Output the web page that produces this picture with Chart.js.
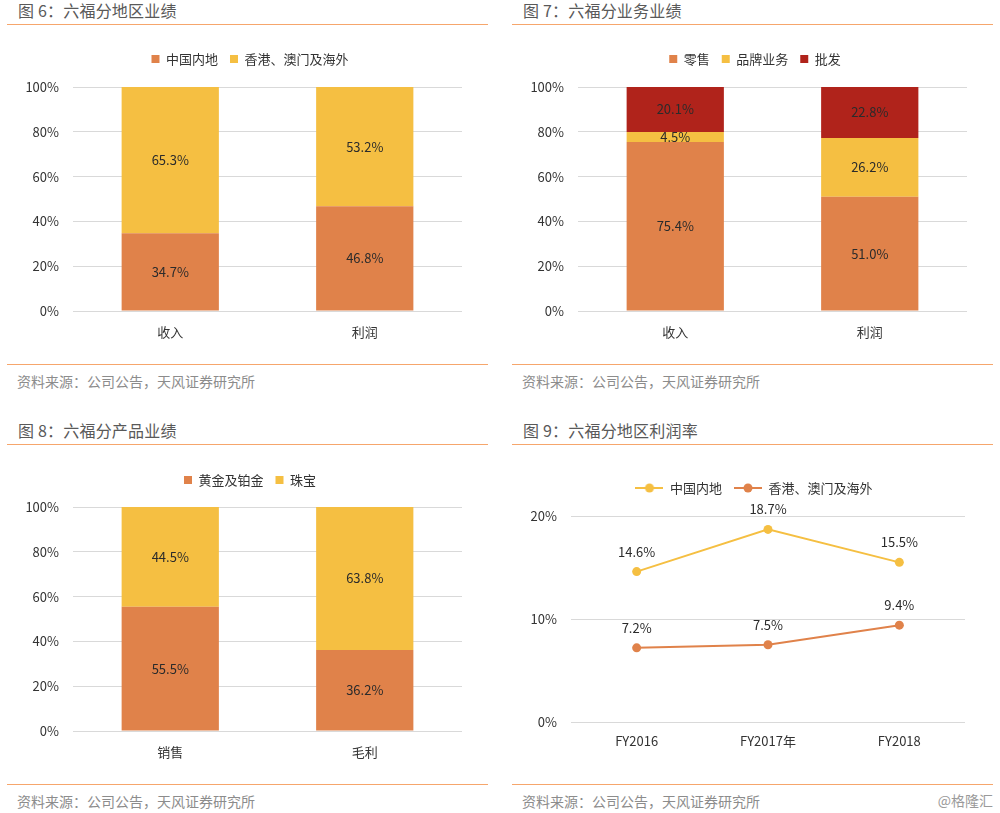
<!DOCTYPE html>
<html>
<head>
<meta charset="utf-8">
<script src="https://cdn.jsdelivr.net/npm/chart.js@4.4.1/dist/chart.umd.min.js"></script>
<style>
  html, body { margin: 0; padding: 0; background: #ffffff; }
  body { width: 1000px; height: 813px; position: relative; overflow: hidden;
         font-family: "Noto Sans CJK SC", "Noto Sans", sans-serif; }
  .title { position: absolute; font-size: 16px; color: #595959; letter-spacing: 0.2px; line-height: 20px; white-space: nowrap; }
  .src { position: absolute; font-size: 14px; color: #8c8c8c; line-height: 18px; white-space: nowrap; }
  .rule { position: absolute; height: 0; border-top: 1.5px solid #f6a66c; }
  .cv { position: absolute; }
  .wm { position: absolute; font-size: 14px; color: #9a9a9a; line-height: 18px; right: 7px; top: 791px; }
</style>
</head>
<body>
<div class="title" style="left:18px; top:0px;">图 6：六福分地区业绩</div>
<div class="rule" style="left:7px; width:481px; top:24px;"></div>
<div class="rule" style="left:7px; width:481px; top:364px;"></div>
<div class="src" style="left:17px; top:372px;">资料来源：公司公告，天风证券研究所</div>

<div class="title" style="left:523px; top:0px;">图 7：六福分业务业绩</div>
<div class="rule" style="left:512px; width:481px; top:24px;"></div>
<div class="rule" style="left:512px; width:481px; top:364px;"></div>
<div class="src" style="left:522px; top:372px;">资料来源：公司公告，天风证券研究所</div>

<div class="title" style="left:18px; top:420px;">图 8：六福分产品业绩</div>
<div class="rule" style="left:7px; width:481px; top:444px;"></div>
<div class="rule" style="left:7px; width:481px; top:784px;"></div>
<div class="src" style="left:17px; top:792px;">资料来源：公司公告，天风证券研究所</div>

<div class="title" style="left:523px; top:420px;">图 9：六福分地区利润率</div>
<div class="rule" style="left:512px; width:481px; top:444px;"></div>
<div class="rule" style="left:512px; width:481px; top:784px;"></div>
<div class="src" style="left:522px; top:792px;">资料来源：公司公告，天风证券研究所</div>
<div class="wm">@格隆汇</div>

<canvas id="c1" class="cv" style="left:0px; top:35px;" width="500" height="316"></canvas>
<canvas id="c2" class="cv" style="left:500px; top:35px;" width="500" height="316"></canvas>
<canvas id="c3" class="cv" style="left:0px; top:455px;" width="500" height="316"></canvas>
<canvas id="c4" class="cv" style="left:500px; top:460px;" width="500" height="302"></canvas>

<script>
// ---------- DATA ----------
const regionCategories = ['收入', '利润'];
const regionMainland = [34.7, 46.8];
const regionOverseas = [65.3, 53.2];

const businessCategories = ['收入', '利润'];
const businessRetail = [75.4, 51.0];
const businessBrand = [4.5, 26.2];
const businessWholesale = [20.1, 22.8];

const productCategories = ['销售', '毛利'];
const productGoldPlatinum = [55.5, 36.2];
const productJewelry = [44.5, 63.8];

const marginYears = ['FY2016', 'FY2017年', 'FY2018'];
const marginMainland = [14.6, 18.7, 15.5];
const marginOverseas = [7.2, 7.5, 9.4];

// ---------- STYLE ----------
const ORANGE = '#e0824a';
const YELLOW = '#f5bf42';
const RED = '#b0231b';
const FONT = '"Noto Sans CJK SC", "Noto Sans", sans-serif';
const TXT = '#333333';
const GRID = '#d9d9d9';

Chart.defaults.font.family = FONT;
Chart.defaults.font.size = 13;
Chart.defaults.color = TXT;
Chart.defaults.animation = false;

// extra space below the legend, and a horizontal shift of the legend
function legendTweak(extra, shift) {
  return {
    id: 'legendTweak',
    beforeInit(chart) {
      const lg = chart.legend;
      if (!lg) return;
      const orig = lg.fit;
      lg.fit = function () { orig.call(this); this.height += extra; };
    },
    afterLayout(chart) {
      const lg = chart.legend;
      if (!lg) return;
      lg.left += shift; lg.right += shift;
    }
  };
}

const valueLabels = {
  id: 'valueLabels',
  afterDatasetsDraw(chart) {
    const ctx = chart.ctx;
    ctx.save();
    ctx.font = '13px ' + FONT;
    ctx.fillStyle = '#2b2b2b';
    ctx.textAlign = 'center';
    ctx.textBaseline = 'middle';
    chart.data.datasets.forEach((ds, di) => {
      const meta = chart.getDatasetMeta(di);
      meta.data.forEach((el, i) => {
        const txt = ds.data[i].toFixed(1) + '%';
        if (meta.type === 'bar') {
          ctx.fillText(txt, el.x, (el.y + el.base) / 2);
        } else {
          ctx.fillText(txt, el.x, el.y - 20);
        }
      });
    });
    ctx.restore();
  }
};

function barConfig(categories, series, opts) {
  return {
    type: 'bar',
    data: {
      labels: categories,
      datasets: series.map(s => ({
        label: s.label, data: s.data, backgroundColor: s.color,
        borderWidth: 0, barPercentage: 0.5, categoryPercentage: 1.0
      }))
    },
    options: {
      responsive: false,
      layout: { padding: { left: 0, right: opts.pr, top: opts.pt, bottom: 0 } },
      plugins: {
        legend: {
          position: 'top',
          labels: { boxWidth: 8, boxHeight: 8, padding: 12, color: TXT, font: { size: 13, family: FONT } }
        },
        tooltip: { enabled: false }
      },
      scales: {
        x: {
          stacked: true,
          grid: { display: false, drawTicks: false },
          border: { display: false },
          ticks: { padding: 13, color: TXT, font: { size: 13 } },
          afterFit(scale) { scale.height = 40; }
        },
        y: {
          stacked: true, min: 0, max: 100,
          grid: { color: GRID, lineWidth: 1, drawTicks: false },
          border: { display: false },
          ticks: { stepSize: 20, padding: 14, color: TXT, font: { size: 13 }, callback: v => v + '%' },
          afterFit(scale) { scale.width = opts.yw; }
        }
      }
    },
    plugins: [legendTweak(opts.extra, opts.shift), valueLabels]
  };
}

new Chart(document.getElementById('c1'), barConfig(regionCategories, [
  { label: '中国内地', data: regionMainland, color: ORANGE },
  { label: '香港、澳门及海外', data: regionOverseas, color: YELLOW }
], { pr: 38, yw: 73, pt: 5.5, extra: 11.5, shift: 19 }));

new Chart(document.getElementById('c2'), barConfig(businessCategories, [
  { label: '零售', data: businessRetail, color: ORANGE },
  { label: '品牌业务', data: businessBrand, color: YELLOW },
  { label: '批发', data: businessWholesale, color: RED }
], { pr: 33, yw: 78, pt: 5.5, extra: 11.5, shift: 21.5 }));

new Chart(document.getElementById('c3'), barConfig(productCategories, [
  { label: '黄金及铂金', data: productGoldPlatinum, color: ORANGE },
  { label: '珠宝', data: productJewelry, color: YELLOW }
], { pr: 38, yw: 73, pt: 6.5, extra: 10.5, shift: 19 }));

function lineIcon(color) {
  const c = document.createElement('canvas');
  c.width = 28; c.height = 10;
  const g = c.getContext('2d');
  g.strokeStyle = color; g.lineWidth = 2;
  g.beginPath(); g.moveTo(0, 5); g.lineTo(28, 5); g.stroke();
  g.fillStyle = color;
  g.beginPath(); g.arc(14, 5, 4.5, 0, Math.PI * 2); g.fill();
  return c;
}
const lineSeries = [
  { label: '中国内地', data: marginMainland, color: YELLOW },
  { label: '香港、澳门及海外', data: marginOverseas, color: ORANGE }
];
const icons = lineSeries.map(s => lineIcon(s.color));

new Chart(document.getElementById('c4'), {
  type: 'line',
  data: {
    labels: marginYears,
    datasets: lineSeries.map(s => ({
      label: s.label, data: s.data, borderColor: s.color, backgroundColor: s.color,
      borderWidth: 2, pointRadius: 4.5, pointBackgroundColor: s.color, pointBorderWidth: 0,
      tension: 0, fill: false
    }))
  },
  options: {
    responsive: false,
    layout: { padding: { left: 0, right: 35, top: 9.5, bottom: 0 } },
    plugins: {
      legend: {
        position: 'top',
        labels: {
          usePointStyle: true, pointStyleWidth: 28, boxHeight: 10, padding: 12, color: TXT,
          font: { size: 13, family: FONT },
          generateLabels(chart) {
            return chart.data.datasets.map((ds, i) => ({
              text: ds.label, fillStyle: ds.borderColor, strokeStyle: ds.borderColor,
              lineWidth: 0, pointStyle: icons[i], hidden: false, datasetIndex: i, fontColor: TXT
            }));
          }
        }
      },
      tooltip: { enabled: false }
    },
    scales: {
      x: {
        offset: true,
        grid: { display: false, drawTicks: false },
        border: { display: false },
        ticks: { padding: 11, color: TXT, font: { size: 13 } },
        afterFit(scale) { scale.height = 40; }
      },
      y: {
        min: 0, max: 20,
        grid: { color: GRID, lineWidth: 1, drawTicks: false },
        border: { display: false },
        ticks: { stepSize: 10, padding: 14, color: TXT, font: { size: 13 }, callback: v => v + '%' },
        afterFit(scale) { scale.width = 71; }
      }
    }
  },
  plugins: [legendTweak(11.5, 21.5), valueLabels]
});
</script>
</body>
</html>
